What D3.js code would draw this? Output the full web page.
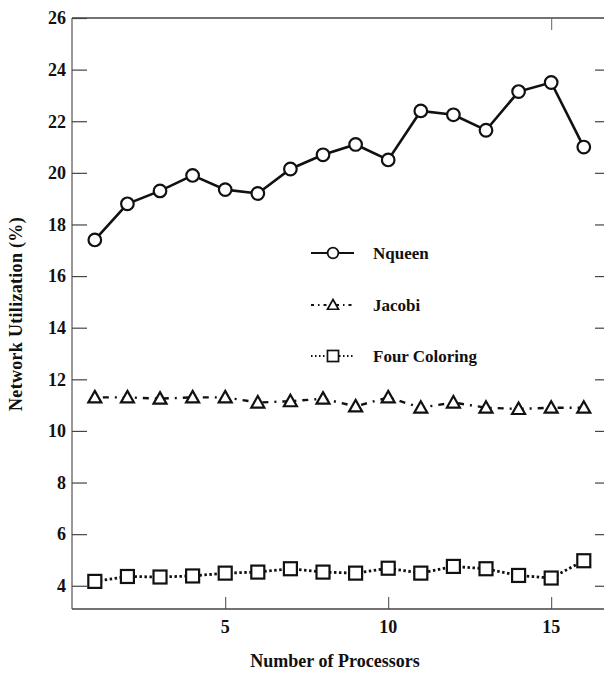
<!DOCTYPE html>
<html>
<head>
<meta charset="utf-8">
<script src="https://cdn.jsdelivr.net/npm/d3@7"></script>
<style>
  body { margin: 0; background: #fff; }
  text { font-family: "Liberation Serif", "Times New Roman", serif; font-weight: bold; fill: #111; }
</style>
</head>
<body>
<div id="wrapper"></div>
<script>
// values
var processors = [1, 2, 3, 4, 5, 6, 7, 8, 9, 10, 11, 12, 13, 14, 15, 16]
var nqueen = [17.4, 18.8, 19.3, 19.9, 19.35, 19.2, 20.15, 20.7, 21.1, 20.5, 22.4, 22.25, 21.65, 23.15, 23.5, 21.0]
var jacobi = [11.3, 11.3, 11.25, 11.3, 11.3, 11.1, 11.15, 11.25, 10.95, 11.3, 10.9, 11.1, 10.9, 10.85, 10.9, 10.9]
var fourColoring = [4.17, 4.36, 4.34, 4.38, 4.49, 4.53, 4.66, 4.53, 4.49, 4.68, 4.49, 4.75, 4.66, 4.4, 4.3, 4.97]
var seriesNames = ["Nqueen", "Jacobi", "Four Coloring"]
var yTicks = [4, 6, 8, 10, 12, 14, 16, 18, 20, 22, 24, 26]
var xTicks = [5, 10, 15]

var width = 604, height = 675
var plot = { left: 72, right: 604, top: 18, bottom: 609 }

var svg = d3.select("#wrapper").append("svg")
    .attr("width", width)
    .attr("height", height)

var xScale = d3.scaleLinear()
    .domain([0.3, 16.62])
    .range([plot.left, plot.right])

var yScale = d3.scaleLinear()
    .domain([3.1, 26])
    .range([plot.bottom, plot.top])

// frame: left, bottom, top lines (right side only has ticks)
svg.append("line")
    .attr("x1", plot.left).attr("x2", plot.left)
    .attr("y1", plot.top).attr("y2", plot.bottom)
    .attr("stroke", "#555").attr("stroke-width", 1.2)
svg.append("line")
    .attr("x1", plot.left).attr("x2", plot.right)
    .attr("y1", plot.bottom).attr("y2", plot.bottom)
    .attr("stroke", "#444").attr("stroke-width", 1.5)
svg.append("line")
    .attr("x1", plot.left).attr("x2", plot.right)
    .attr("y1", plot.top).attr("y2", plot.top)
    .attr("stroke", "#444").attr("stroke-width", 1.5)

// y axis, ticks pointing inward
var yAxis = svg.append("g")
    .attr("transform", `translate(${plot.left},0)`)
    .call(d3.axisRight(yScale).tickValues(yTicks).tickSize(15).tickFormat(""))
yAxis.select(".domain").remove()
yAxis.selectAll("line").attr("stroke", "#444").attr("stroke-width", 1.2)

svg.append("g").selectAll("text")
    .data(yTicks)
    .join("text")
    .attr("x", 66)
    .attr("y", d => yScale(d))
    .attr("dy", "0.35em")
    .attr("text-anchor", "end")
    .style("font-size", "18px")
    .text(d => d)

var yAxisRight = svg.append("g")
    .attr("transform", `translate(${plot.right},0)`)
    .call(d3.axisLeft(yScale).tickValues(yTicks.filter(d => d < 26)).tickSize(9).tickFormat(""))
yAxisRight.select(".domain").remove()
yAxisRight.selectAll("line").attr("stroke", "#444").attr("stroke-width", 1.2)

// x axis
var xAxis = svg.append("g")
    .attr("transform", `translate(0,${plot.bottom})`)
    .call(d3.axisTop(xScale).tickValues(xTicks).tickSize(12).tickFormat(""))
xAxis.select(".domain").remove()
xAxis.selectAll("line").attr("stroke", "#444").attr("stroke-width", 1)

svg.append("g").selectAll("text")
    .data(xTicks)
    .join("text")
    .attr("x", d => xScale(d))
    .attr("y", 633)
    .attr("text-anchor", "middle")
    .style("font-size", "18px")
    .text(d => d)

var xAxisTop = svg.append("g")
    .attr("transform", `translate(0,${plot.top})`)
    .call(d3.axisBottom(xScale).tickValues([15]).tickSize(12).tickFormat(""))
xAxisTop.select(".domain").remove()
xAxisTop.selectAll("line").attr("stroke", "#666").attr("stroke-width", 1)

// titles
svg.append("text")
    .attr("x", 335)
    .attr("y", 667)
    .attr("text-anchor", "middle")
    .style("font-size", "18px")
    .text("Number of Processors")

svg.append("text")
    .attr("transform", "translate(22,314) rotate(-90)")
    .attr("text-anchor", "middle")
    .style("font-size", "18px")
    .style("letter-spacing", "0.3px")
    .text("Network Utilization (%)")

// series
var series = [
    { name: seriesNames[0], values: nqueen, dash: null, width: 2.6, shape: "circle" },
    { name: seriesNames[1], values: jacobi, dash: "2,6,6,6", width: 2.4, shape: "triangle" },
    { name: seriesNames[2], values: fourColoring, dash: "2.5,2.5", width: 2.8, shape: "square" }
]

var lineGenerator = d3.line()
    .x(d => xScale(d.x))
    .y(d => yScale(d.y))

function drawMarker(g, shape) {
    if (shape == "circle") {
        g.append("circle").attr("r", 6.3)
    } else if (shape == "triangle") {
        g.append("path").attr("d", "M0,-6.5 L6.5,5 L-6.5,5 Z")
    } else {
        g.append("rect").attr("x", -6.5).attr("y", -6.5).attr("width", 13).attr("height", 13)
    }
    g.selectAll("*")
        .attr("fill", "#fff")
        .attr("stroke", "#111")
        .attr("stroke-width", 2.2)
}

series.forEach(s => {
    var pts = processors.map((p, i) => ({ x: p, y: s.values[i] }))
    svg.append("path")
        .attr("d", lineGenerator(pts))
        .attr("fill", "none")
        .attr("stroke", "#111")
        .attr("stroke-width", s.width)
        .attr("stroke-dasharray", s.dash)
    pts.forEach(d => {
        var g = svg.append("g").attr("transform", `translate(${xScale(d.x)},${yScale(d.y)})`)
        drawMarker(g, s.shape)
    })
})

// legend
var legendY = [253, 305, 356]
series.forEach((s, i) => {
    var y = legendY[i]
    svg.append("line")
        .attr("x1", 311).attr("x2", 354)
        .attr("y1", y).attr("y2", y)
        .attr("stroke", "#111")
        .attr("stroke-width", s.shape == "circle" ? 2 : 1.8)
        .attr("stroke-dasharray", s.shape == "triangle" ? "3,4,1.5,4" : (s.shape == "square" ? "1.5,2.5" : null))
    var g = svg.append("g").attr("transform", `translate(333,${y})`)
    drawMarker(g, s.shape)
    g.selectAll("*").attr("transform", "scale(0.85)").attr("stroke-width", 2)
    svg.append("text")
        .attr("x", 373)
        .attr("y", y)
        .attr("dy", "0.35em")
        .style("font-size", "17px")
        .text(s.name)
})
</script>
</body>
</html>
